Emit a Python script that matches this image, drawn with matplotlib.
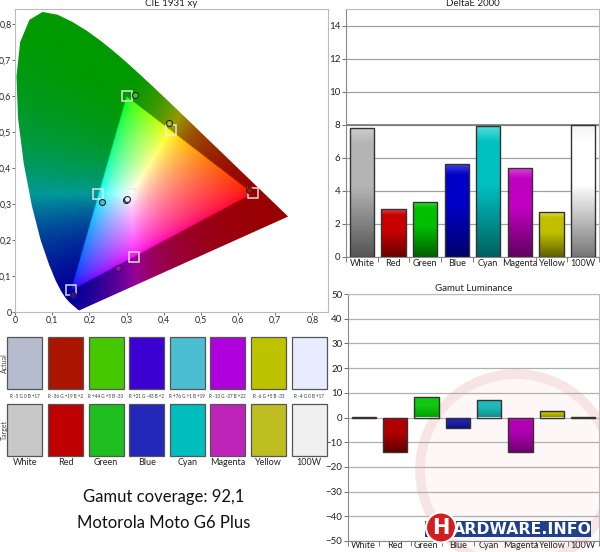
import numpy as np
import matplotlib
matplotlib.use("Agg")
import matplotlib.pyplot as plt
from matplotlib.patches import Polygon, Rectangle, Circle
from matplotlib.ticker import FixedLocator

plt.rcParams['font.family'] = ['Lato', 'DejaVu Sans']

# ---------------- data ----------------
categories = ["White", "Red", "Green", "Blue", "Cyan", "Magenta", "Yellow", "100W"]
deltae = [7.8, 2.9, 3.35, 5.65, 7.9, 5.4, 2.7, 7.97]
gamut_lum = [0.2, -14.0, 8.3, -4.1, 7.0, -14.0, 2.5, 0.2]

target_x = [0.3127, 0.64, 0.30, 0.15, 0.2246, 0.3209, 0.4193, 0.3127]
target_y = [0.3290, 0.33, 0.60, 0.06, 0.3287, 0.1542, 0.5053, 0.3290]
actual_x = [0.298, 0.630, 0.322, 0.156, 0.233, 0.277, 0.414, 0.300]
actual_y = [0.311, 0.340, 0.603, 0.047, 0.305, 0.123, 0.525, 0.315]

actual_colors = ["#b4bccd", "#aa1400", "#46c800", "#3c00d2", "#4bbed2", "#af00dc", "#bec300", "#e8ecff"]
target_colors = ["#c8c8c8", "#be0000", "#1ebe1e", "#2328b9", "#00bebe", "#be23b9", "#bebe23", "#f0f0f0"]
diff_labels = ["R -5 G 0 B +17", "R -36 G +19 B +2", "R +44 G +5 B -33", "R +21 G -43 B +2",
               "R +76 G +1 B +19", "R -13 G -37 B +22", "R -6 G +5 B -33", "R -4 G 0 B +17"]

gamut_coverage = "92,1"
device = "Motorola Moto G6 Plus"

# CIE 1931 spectral locus (380-700 nm)
locus_x = [0.1741, 0.1740, 0.1738, 0.1736, 0.1733, 0.1730, 0.1726, 0.1721, 0.1714, 0.1703,
           0.1689, 0.1669, 0.1644, 0.1611, 0.1566, 0.1510, 0.1440, 0.1355, 0.1241, 0.1096,
           0.0913, 0.0687, 0.0454, 0.0235, 0.0082, 0.0039, 0.0139, 0.0389, 0.0743, 0.1142,
           0.1547, 0.1929, 0.2296, 0.2658, 0.3016, 0.3373, 0.3731, 0.4087, 0.4441, 0.4788,
           0.5125, 0.5448, 0.5752, 0.6029, 0.6270, 0.6482, 0.6658, 0.6801, 0.6915, 0.7006,
           0.7079, 0.7140, 0.7190, 0.7230, 0.7260, 0.7283, 0.7300, 0.7311, 0.7320, 0.7347]
locus_y = [0.0050, 0.0050, 0.0049, 0.0049, 0.0048, 0.0048, 0.0048, 0.0048, 0.0051, 0.0058,
           0.0069, 0.0086, 0.0109, 0.0138, 0.0177, 0.0227, 0.0297, 0.0399, 0.0578, 0.0868,
           0.1327, 0.2007, 0.2950, 0.4127, 0.5384, 0.6548, 0.7502, 0.8120, 0.8338, 0.8262,
           0.8059, 0.7816, 0.7543, 0.7243, 0.6923, 0.6589, 0.6245, 0.5896, 0.5547, 0.5202,
           0.4866, 0.4544, 0.4242, 0.3965, 0.3725, 0.3514, 0.3340, 0.3197, 0.3083, 0.2993,
           0.2920, 0.2859, 0.2809, 0.2770, 0.2740, 0.2717, 0.2700, 0.2689, 0.2680, 0.2653]

# bar gradient colours (top, middle, bottom)
de_grad = [("#cccccc", "#b4b4b4", "#555555"), ("#dd4040", "#c80000", "#6a0000"),
           ("#40dd40", "#00c000", "#006000"), ("#4848dd", "#0000c8", "#00006a"),
           ("#50dddd", "#00c0c0", "#006060"), ("#dd48dd", "#c000c0", "#600060"),
           ("#dddd48", "#c0c000", "#606000"), ("#f4f4f4", "#ffffff", "#777777")]
gl_grad = [("#e0e0e0", "#c0c0c0", "#909090"), ("#d00000", "#b00000", "#600000"),
           ("#50e050", "#10c810", "#00a000"), ("#4040d0", "#2020b0", "#101080"),
           ("#50d0d0", "#20b8b8", "#109090"), ("#d020d0", "#b000b0", "#700070"),
           ("#d8d840", "#c0c000", "#909000"), ("#f0f0f0", "#e0e0e0", "#b0b0b0")]

W, H = 600, 552
fig = plt.figure(figsize=(W / 100, H / 100), dpi=100)


def px_axes(l, t, r, b, **kw):
    return fig.add_axes([l / W, 1 - b / H, (r - l) / W, (b - t) / H], **kw)


def comma(v):
    s = f"{v:.1f}".replace(".", ",")
    return "0" if abs(v) < 1e-9 else s


# background overlay (watermark)
bg = px_axes(0, 0, W, H, zorder=0)
bg.set_xlim(0, W)
bg.set_ylim(H, 0)
bg.axis("off")
bg.add_patch(Circle((516, 470), 96, facecolor="#fdf7f7", edgecolor="#f7e4e4", lw=7))

# ---------------- CIE diagram ----------------
ax = px_axes(15, 9, 328, 312, zorder=2)
lim = 0.842
N = 500
xs = np.linspace(0, lim, N)
ys = np.linspace(0.001, lim, N)
xg, yg = np.meshgrid(xs, ys)
Xc = xg / yg
Zc = (1 - xg - yg) / yg
M = np.array([[3.2406, -1.5372, -0.4986], [-0.9689, 1.8758, 0.0415], [0.0557, -0.2040, 1.0570]])
XYZ = np.stack([Xc, np.ones_like(Xc), Zc], axis=-1)
rgb = XYZ @ M.T
inside = np.all(rgb >= 0, axis=-1)
pos = np.clip(rgb, 0, None)
mx = pos.max(axis=-1, keepdims=True)
mx[mx == 0] = 1
v = pos / mx
inner = np.power(v, 1 / 1.7)
outer = np.power(v, 1.2) * 0.6
img = np.where(inside[..., None], inner, outer)
img = np.clip(img, 0, 1)

poly = Polygon(np.column_stack([locus_x, locus_y]), closed=True, facecolor="none", edgecolor="none")
ax.add_patch(poly)
im = ax.imshow(img, extent=(0, lim, 0.001, lim), origin="lower", aspect="auto", interpolation="bilinear")
im.set_clip_path(poly)

ax.plot(target_x, target_y, linestyle="none", marker="s", markersize=6.5,
        markerfacecolor="none", markeredgecolor="#eeeeee", markeredgewidth=1.1, alpha=0.9)
for xx, yy, c in zip(actual_x, actual_y, actual_colors):
    ax.plot([xx], [yy], linestyle="none", marker="o", markersize=4.3,
            markerfacecolor=c, markeredgecolor="#222222", markeredgewidth=0.8)

ax.set_xlim(0, lim)
ax.set_ylim(0, lim)
ticks = [i / 10 for i in range(9)]
ax.set_xticks(ticks)
ax.set_xticklabels([comma(t) for t in ticks])
ax.set_yticks(ticks)
ax.set_yticklabels([comma(t) for t in ticks])
ax.tick_params(labelsize=6.3, length=2, width=0.6, color="#555555", pad=0.6, labelcolor="#222222")
for s in ax.spines.values():
    s.set_color("#bbbbbb")
ax.set_title("CIE 1931 xy", fontsize=7, pad=2.5, color="#222222")


# ---------------- gradient bars helper ----------------
def grad_image(top, mid, bot, n=100):
    t = np.linspace(0, 1, n)
    c = [np.array(matplotlib.colors.to_rgb(k)) for k in (top, mid, bot)]
    out = np.zeros((n, 1, 3))
    for i, tt in enumerate(t):
        if tt < 0.12:
            f = tt / 0.12
            out[i, 0] = c[0] * (1 - f) + c[1] * f
        elif tt < 0.45:
            out[i, 0] = c[1]
        else:
            f = (tt - 0.45) / 0.55
            out[i, 0] = c[1] * (1 - f) + c[2] * f
    return out


def bar_chart(axb, values, grads, width):
    bars = axb.bar(range(len(values)), values, width=width, facecolor="none",
                   edgecolor="#333333", linewidth=1.0, zorder=3)
    for b, g in zip(bars, grads):
        x0 = b.get_x()
        y0 = b.get_y()
        h = b.get_height()
        lo, hi = min(y0, y0 + h), max(y0, y0 + h)
        gi = axb.imshow(grad_image(*g), extent=(x0, x0 + b.get_width(), lo, hi),
                        origin="upper", aspect="auto", zorder=2, interpolation="bilinear")
        gi.set_clip_path(b)


def style_bar_axes(axb, xpad):
    n = len(categories)
    axb.set_xlim(-0.5, n - 0.5)
    axb.xaxis.set_major_locator(FixedLocator([i + 0.5 for i in range(-1, n)]))
    axb.xaxis.set_minor_locator(FixedLocator(list(range(n))))
    axb.set_xticklabels([], minor=False)
    axb.set_xticklabels(categories, minor=True)
    axb.tick_params(axis="x", which="minor", length=0, labelsize=6.6, pad=xpad, labelcolor="#222222")
    axb.tick_params(axis="x", which="major", length=3.5, width=0.6, color="#666666", direction="out")
    axb.tick_params(axis="y", labelsize=7, length=3, width=0.6, color="#555555", pad=1, labelcolor="#222222")
    axb.set_axisbelow(True)
    for s in axb.spines.values():
        s.set_color("#bbbbbb")
    axb.spines["left"].set_color("#888888")
    axb.spines["bottom"].set_color("#888888")


# ---------------- DeltaE 2000 ----------------
ax2 = px_axes(346, 9, 599, 257, zorder=2)
bar_chart(ax2, deltae, de_grad, 0.77)
style_bar_axes(ax2, 1.5)
ax2.set_ylim(0, 15)
ax2.set_yticks(range(0, 15, 2))
ax2.grid(axis="y", color="#a0a0a0", linewidth=0.9)
ax2.axhline(8, color="#777777", linewidth=1.2, zorder=1)
ax2.set_title("DeltaE 2000", fontsize=7, pad=2.5, color="#222222")

# ---------------- Gamut Luminance ----------------
ax3 = px_axes(348, 294, 599, 541, zorder=2)
ax3.set_facecolor("none")
bar_chart(ax3, gamut_lum, gl_grad, 0.77)
style_bar_axes(ax3, 0.3)
ax3.set_ylim(-50, 50)
ax3.set_yticks(range(-50, 51, 10))
ax3.grid(axis="y", color="#b0b0b0", linewidth=0.9)
ax3.set_title("Gamut Luminance", fontsize=7, pad=2, color="#222222")

# ---------------- swatches ----------------
sw = px_axes(0, 330, 330, 552, zorder=2)
sw.set_xlim(0, 330)
sw.set_ylim(552, 330)
sw.axis("off")
x0, step, wsw = 7.3, 40.6, 35.0
for i, name in enumerate(categories):
    xl = x0 + i * step
    sw.add_patch(Rectangle((xl, 337), wsw, 52, facecolor=actual_colors[i], edgecolor="#555555", lw=0.9))
    sw.add_patch(Rectangle((xl, 404), wsw, 52, facecolor=target_colors[i], edgecolor="#555555", lw=0.9))
    sw.text(xl + wsw / 2, 396.5, diff_labels[i], fontsize=3.3, ha="center", va="center", color="#333333")
    sw.text(xl + wsw / 2, 462.5, name, fontsize=6.5, ha="center", va="center", color="#222222")
sw.text(4.2, 363, "Actual", rotation=90, fontsize=5, ha="center", va="center", color="#444444")
sw.text(4.2, 430, "Target", rotation=90, fontsize=5, ha="center", va="center", color="#444444")
sw.text(164, 497, f"Gamut coverage: {gamut_coverage}", fontsize=12, ha="center", va="center", color="#111111")
sw.text(164, 523, device, fontsize=12, ha="center", va="center", color="#111111")

# ---------------- logo ----------------
lg = px_axes(0, 0, W, H, zorder=5)
lg.set_xlim(0, W)
lg.set_ylim(H, 0)
lg.axis("off")
lg.add_patch(Rectangle((425, 520.5), 166, 16, facecolor="#1f3f8f", edgecolor="none"))
lg.add_patch(Circle((441, 527.5), 15, facecolor="#d21e1e", edgecolor="white", lw=1.5))
lg.text(441, 528.5, "H", fontsize=15, fontweight="bold", color="white", ha="center", va="center",
        family="DejaVu Sans")
lg.text(453, 529, "ARDWARE.INFO", fontsize=11.3, fontweight="bold", color="white", ha="left", va="center",
        family="DejaVu Sans")

fig.savefig("out.png", dpi=100)
